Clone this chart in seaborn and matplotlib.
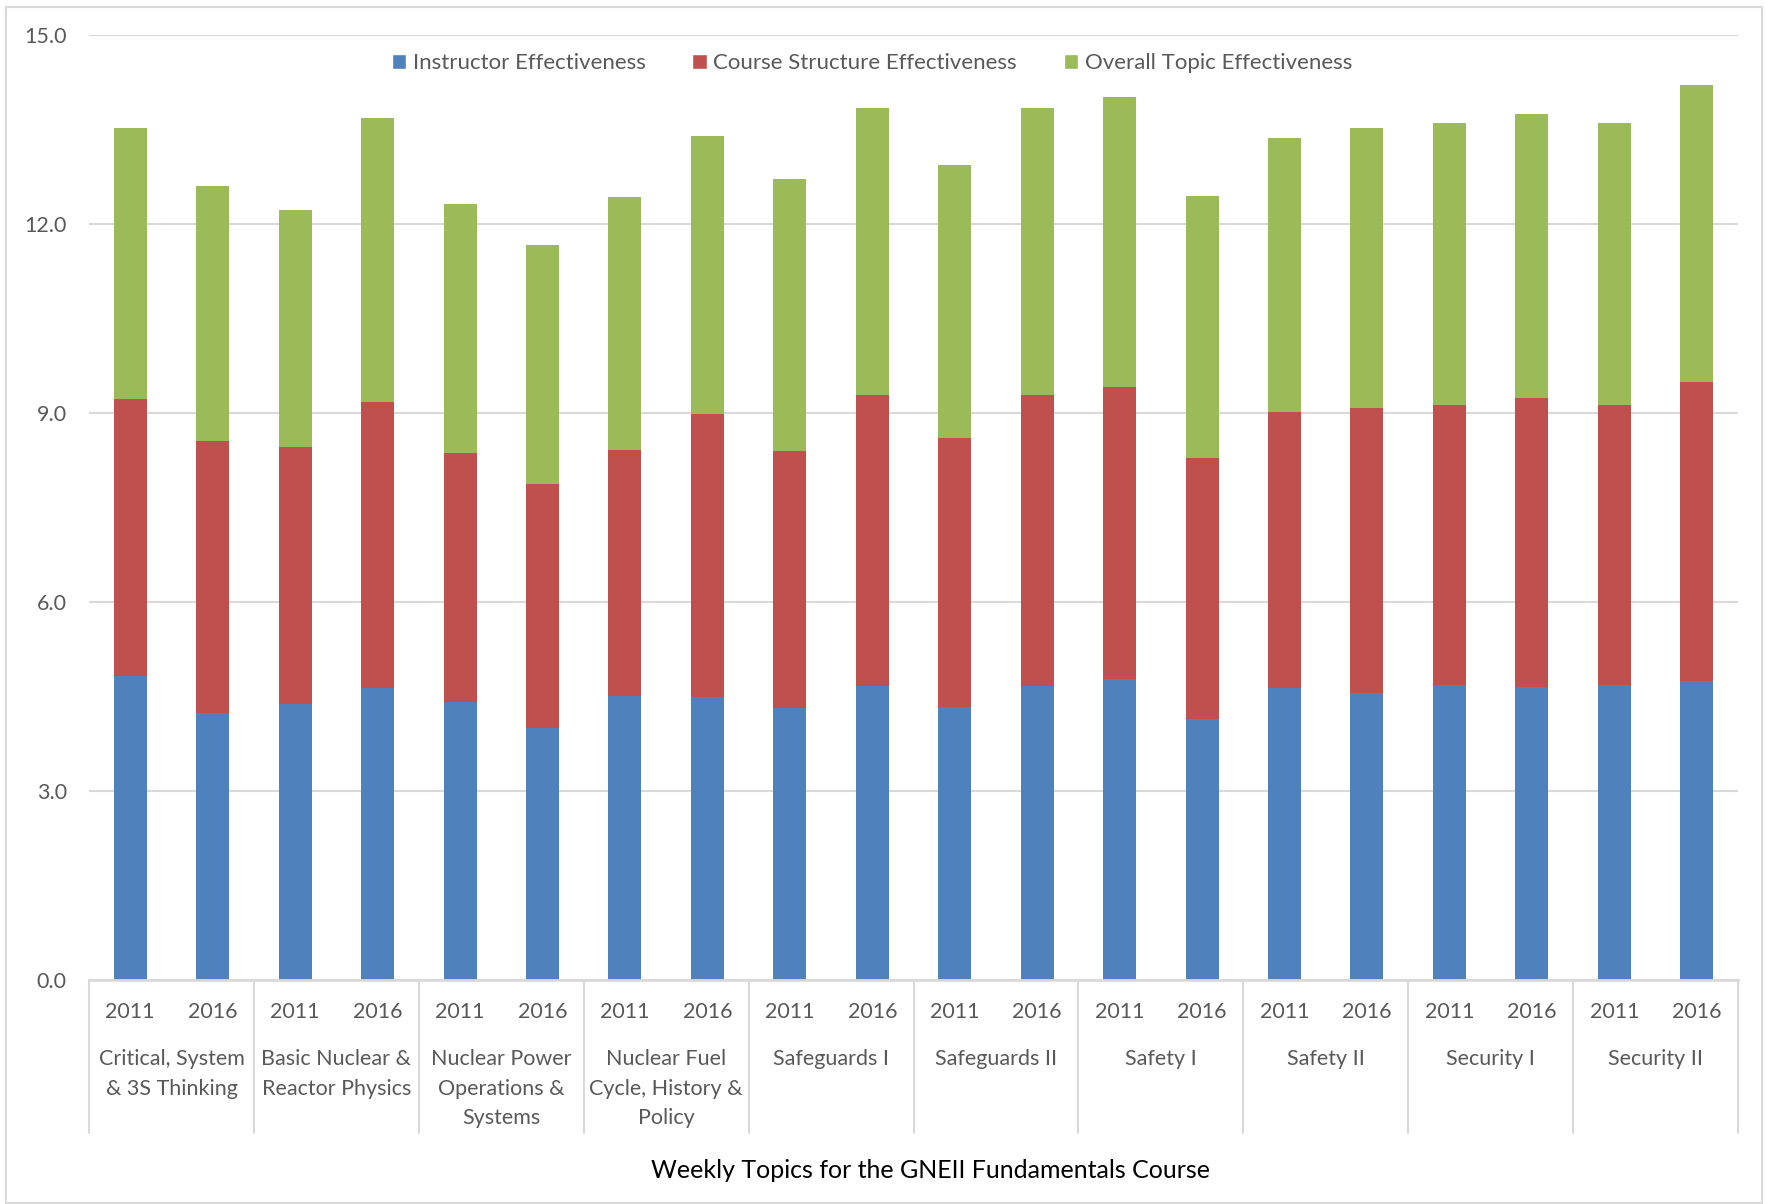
import numpy as np
import pandas as pd
import matplotlib
matplotlib.use("Agg")
import matplotlib.pyplot as plt
import matplotlib.transforms as mtransforms
from matplotlib.patches import Rectangle, Patch
import seaborn as sns

# ---- data ----
topics = ["Critical, System\n& 3S Thinking", "Basic Nuclear &\nReactor Physics",
          "Nuclear Power\nOperations &\nSystems", "Nuclear Fuel\nCycle, History &\nPolicy",
          "Safeguards I", "Safeguards II", "Safety I", "Safety II",
          "Security I", "Security II"]
years = ["2011", "2016"]

instructor = [4.83, 4.24, 4.38, 4.63, 4.42, 4.00, 4.51, 4.49, 4.31, 4.67,
              4.34, 4.67, 4.77, 4.15, 4.63, 4.56, 4.68, 4.65, 4.68, 4.74]
course = [4.40, 4.31, 4.08, 4.54, 3.95, 3.87, 3.91, 4.49, 4.09, 4.61,
          4.26, 4.61, 4.65, 4.13, 4.38, 4.52, 4.44, 4.59, 4.44, 4.75]
overall = [4.29, 4.05, 3.77, 4.51, 3.95, 3.79, 4.01, 4.41, 4.31, 4.56,
           4.34, 4.56, 4.60, 4.16, 4.36, 4.44, 4.49, 4.51, 4.49, 4.71]

series_names = ["Instructor Effectiveness", "Course Structure Effectiveness",
                "Overall Topic Effectiveness"]
colors = ["#4F81BD", "#C0504D", "#9BBB59"]

bar_ids = [t + " " + y for t in topics for y in years]
df = pd.DataFrame({"bar": bar_ids, "inst": instructor, "course": course, "overall": overall})
df["cum1"] = df["inst"]
df["cum2"] = df["inst"] + df["course"]
df["cum3"] = df["cum2"] + df["overall"]

sns.set_style("white")
plt.rcParams["font.family"] = ["Lato", "DejaVu Sans"]
txt_col = "#595959"
grid_col = "#D9D9D9"

fig = plt.figure(figsize=(17.67, 12.04), dpi=100)
ax = fig.add_axes([89 / 1767, 1 - 980 / 1204, (1738 - 89) / 1767, (980 - 35) / 1204])

# stacked: draw totals back to front
for col, c in zip(["cum3", "cum2", "cum1"], colors[::-1]):
    sns.barplot(data=df, x="bar", y=col, order=bar_ids, color=c, saturation=1,
                width=0.4, errorbar=None, linewidth=0, ax=ax, zorder=3)

ax.set_ylim(0, 15)
ax.set_xlim(-0.5, len(bar_ids) - 0.5)
ax.set_yticks(np.arange(0, 15.1, 3))
ax.set_yticklabels([f"{v:.1f}" for v in np.arange(0, 15.1, 3)])
ax.yaxis.grid(True, color=grid_col, linewidth=1.5, zorder=0)
ax.set_axisbelow(True)
for s in ["left", "right", "top"]:
    ax.spines[s].set_visible(False)
ax.spines["bottom"].set_color(grid_col)
ax.spines["bottom"].set_linewidth(2)
ax.spines["bottom"].set_zorder(4)

ax.set_xticks(range(len(bar_ids)))
ax.set_xticklabels(years * len(topics))
ax.tick_params(axis="x", length=0, pad=16, labelsize=15.5, labelcolor=txt_col)
ax.tick_params(axis="y", length=0, pad=16, labelsize=15.5, labelcolor=txt_col)
ax.set_xlabel("")
ax.set_ylabel("")

# group labels and separators below the axis
trans = mtransforms.blended_transform_factory(ax.transData, fig.transFigure)
for i, t in enumerate(topics):
    ax.text(2 * i + 0.5, 1 - 1049 / 1204, t, transform=trans, ha="center", va="top",
            fontsize=15.5, color=txt_col, linespacing=1.6)
transx = mtransforms.blended_transform_factory(ax.transData, ax.transAxes)
for b in np.arange(-0.5, len(bar_ids), 2):
    ax.plot([b, b], [0, -153 / 945], transform=transx, color=grid_col, lw=1.5, clip_on=False)

fig.text(930 / 1767, 1 - 1170 / 1204, "Weekly Topics for the GNEII Fundamentals Course",
         ha="center", va="center", fontsize=18, color="black")

handles = [Patch(facecolor=c, label=n) for c, n in zip(colors, series_names)]
fig.legend(handles=handles, loc="center", bbox_to_anchor=(872 / 1767, 1 - 63 / 1204),
           ncol=3, frameon=False, fontsize=16, labelcolor=txt_col, handlelength=0.65,
           handleheight=0.65, handletextpad=0.3, columnspacing=2.1)

fig.patches.append(Rectangle((6 / 1767, 1 / 1204), 1756 / 1767, 1196 / 1204,
                             transform=fig.transFigure, fill=False,
                             edgecolor=grid_col, linewidth=1.5))

fig.savefig("out.png", dpi=100)
